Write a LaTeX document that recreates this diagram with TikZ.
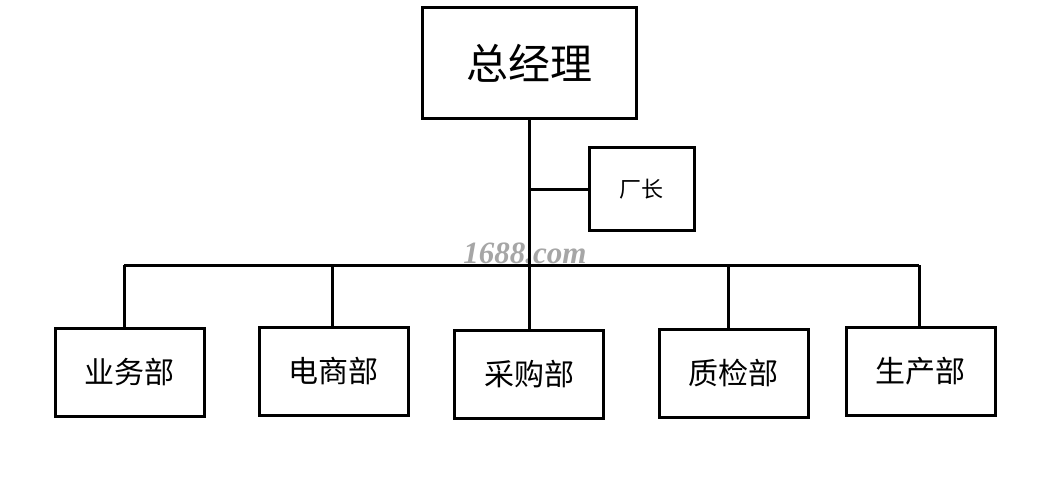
\documentclass[tikz,border=0pt]{standalone}
\usepackage{fontspec}
\setmainfont{Liberation Serif}
\newfontfamily\cjk{Noto Sans CJK SC}[Scale=1]
\begin{document}
\begin{tikzpicture}[x=1pt,y=-1pt,
  box/.style={draw=black,line width=3pt,minimum width=#1,inner sep=0pt},
  conn/.style={draw=black,line width=3pt},
  dept/.style={box=149pt,minimum height=88pt,font=\cjk\fontsize{30}{32}\selectfont}]
\useasboundingbox (0,0) rectangle (1051,503);
\node[box=214pt,minimum height=110pt,font=\cjk\fontsize{42}{46}\selectfont] (gm) at (529,63) {总经理};
\node[box=105pt,minimum height=83pt,font=\cjk\fontsize{22}{24}\selectfont] (cz) at (641.5,189) {厂长};
\node[dept] (d1) at (129.5,372.5) {业务部};
\node[dept] (d2) at (333.5,371.5) {电商部};
\node[dept] (d3) at (529,374) {采购部};
\node[dept] (d4) at (733.5,373) {质检部};
\node[dept] (d5) at (920.5,371) {生产部};
\coordinate (busL) at (124,265);
\coordinate (busR) at (919,265);
\coordinate (czj) at (529,189);
\node[font=\bfseries\itshape\fontsize{31}{32}\selectfont,text=black!35] (wm) at (525,253) {1688.com};
\draw[conn] (gm.south) -- (d3.north);
\draw[conn] (czj) -- (cz.west);
\draw[conn] (busL) -- (busR);
\draw[conn] (busL) -- (busL |- d1.north);
\draw[conn] (332,265) -- (332,0 |- d2.north);
\draw[conn] (728,265) -- (728,0 |- d4.north);
\draw[conn] (busR) -- (busR |- d5.north);
\end{tikzpicture}
\end{document}
